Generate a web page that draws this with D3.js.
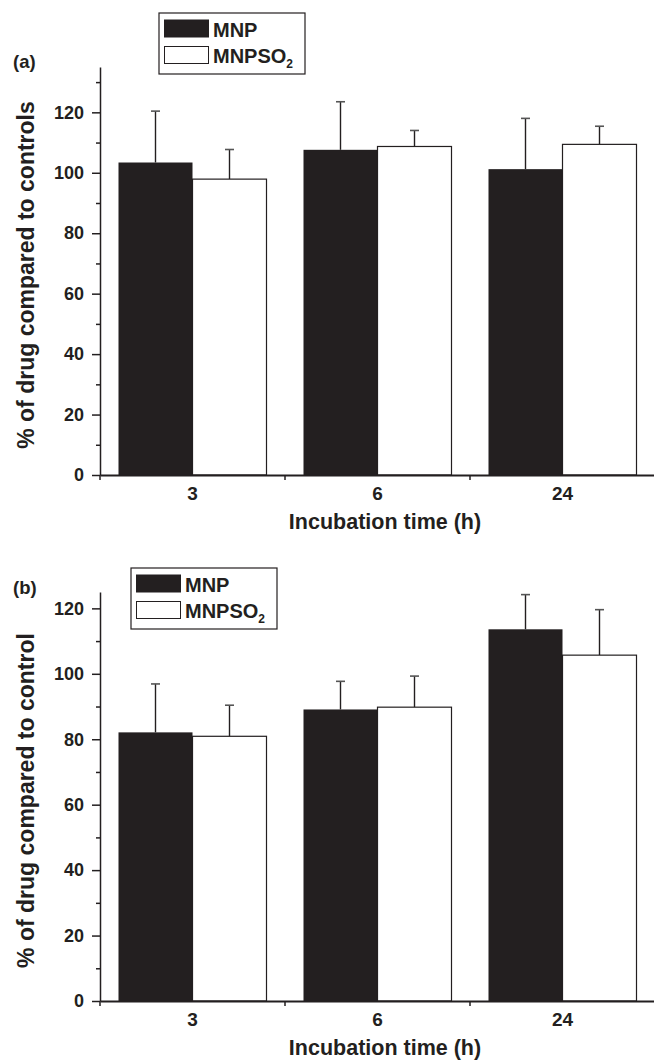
<!DOCTYPE html>
<html>
<head>
<meta charset="utf-8">
<script src="https://cdn.jsdelivr.net/npm/d3@7"></script>
<style>
	body { margin: 0; background: #fff; }
	text { font-family: "Liberation Sans", Arial, sans-serif; font-weight: bold; fill: #231f20; }
</style>
</head>
<body>
<div id="chart"></div>
<script>
// values (mean and SD, % of controls)
var categories = ['3', '6', '24'];
var seriesNames = ['MNP', 'MNPSO2'];

var mnpA = [103.4, 107.6, 101.2];
var mnpSdA = [17.0, 15.9, 16.8];
var so2A = [97.9, 108.7, 109.4];
var so2SdA = [9.8, 5.3, 6.0];

var mnpB = [82.1, 89.1, 113.6];
var mnpSdB = [14.8, 8.6, 10.6];
var so2B = [80.9, 89.8, 105.7];
var so2SdB = [9.5, 9.5, 13.9];

var yTicks = [0, 20, 40, 60, 80, 100, 120];
var yMinorA = [10, 30, 50, 70, 90, 110, 130];
var yMinorB = [10, 30, 50, 70, 90, 110];

var barChart = (function() {

	var ink = '#231f20';

	var init = function() {
		var svg = d3.select('#chart')
					.append('svg')
					.attr('width', 654)
					.attr('height', 1061);

		drawPanel(svg, {
			mnp: mnpA, mnpSd: mnpSdA, so2: so2A, so2Sd: so2SdA,
			yMax: 135, top: 67, bottom: 475, minor: yMinorA,
			tag: '(a)', tagY: 68,
			ytitle: '% of drug compared to controls',
			legendX: 159, legendY: 13
		});

		drawPanel(svg, {
			mnp: mnpB, mnpSd: mnpSdB, so2: so2B, so2Sd: so2SdB,
			yMax: 125, top: 592, bottom: 1001, minor: yMinorB,
			tag: '(b)', tagY: 594,
			ytitle: '% of drug compared to control',
			legendX: 131, legendY: 568
		});
	}

	var drawPanel = function(svg, p) {

		var x = d3.scaleBand().domain(categories).range([100, 655]);
		var xs = d3.scaleBand().domain(seriesNames).range([0, x.bandwidth()]).paddingOuter(0.25);
		var y = d3.scaleLinear().domain([0, p.yMax]).range([p.bottom, p.top]);

		var rows = [];
		categories.forEach(function(c, i) {
			rows.push({ cat: c, s: 'MNP', v: p.mnp[i], sd: p.mnpSd[i] });
			rows.push({ cat: c, s: 'MNPSO2', v: p.so2[i], sd: p.so2Sd[i] });
		});

		var g = svg.append('g');
		var cx = function(d) { return x(d.cat) + xs(d.s) + xs.bandwidth() / 2; };

		// error bars (only upper half shows)
		g.selectAll('line.err')
			.data(rows)
			.enter()
				.append('line')
				.attr('x1', cx).attr('x2', cx)
				.attr('y1', function(d) { return y(d.v); })
				.attr('y2', function(d) { return y(d.v + d.sd); })
				.attr('stroke', ink)
				.attr('stroke-width', 1.4);

		g.selectAll('line.cap')
			.data(rows)
			.enter()
				.append('line')
				.attr('x1', function(d) { return cx(d) - 4.5; })
				.attr('x2', function(d) { return cx(d) + 4.5; })
				.attr('y1', function(d) { return y(d.v + d.sd); })
				.attr('y2', function(d) { return y(d.v + d.sd); })
				.attr('stroke', '#555')
				.attr('stroke-width', 1.6);

		g.selectAll('rect.bar')
			.data(rows)
			.enter()
				.append('rect')
				.attr('x', function(d) { return x(d.cat) + xs(d.s); })
				.attr('width', xs.bandwidth())
				.attr('y', function(d) { return y(d.v); })
				.attr('height', function(d) { return y(0) - y(d.v); })
				.attr('fill', function(d) { return d.s == 'MNP' ? ink : '#fff'; })
				.attr('stroke', ink)
				.attr('stroke-width', function(d) { return d.s == 'MNP' ? 0 : 1.2; });

		// y axis
		var yAxis = g.append('g')
			.attr('transform', 'translate(100,0)')
			.call(d3.axisLeft(y).tickValues(yTicks).tickSize(8).tickSizeOuter(0).tickPadding(8));
		g.append('g')
			.attr('transform', 'translate(100,0)')
			.call(d3.axisLeft(y).tickValues(p.minor).tickSize(4).tickSizeOuter(0).tickFormat(''))
			.select('.domain').remove();

		yAxis.selectAll('text').attr('font-size', 18).attr('font-family', null);
		g.selectAll('.domain, .tick line').attr('stroke', ink).attr('stroke-width', 1.5);

		// x axis: line, ticks on the category edges, labels in the middle
		var xAxis = g.append('g')
			.attr('transform', 'translate(0,' + p.bottom + ')')
			.call(d3.axisBottom(x).tickSize(0).tickSizeOuter(0).tickPadding(12));
		xAxis.select('.domain').attr('stroke', ink).attr('stroke-width', 1.8);
		xAxis.selectAll('text').attr('font-size', 19).attr('font-family', null).attr('dy', '0.71em');

		var edges = categories.map(function(c) { return x(c); }).concat([x.range()[1]]);
		xAxis.selectAll('line.edge')
			.data(edges)
			.enter()
				.append('line')
				.attr('x1', function(d) { return d; })
				.attr('x2', function(d) { return d; })
				.attr('y1', 0).attr('y2', 5)
				.attr('stroke', ink)
				.attr('stroke-width', 1.5);

		g.append('text')
			.attr('x', 385)
			.attr('y', p.bottom + 54)
			.attr('text-anchor', 'middle')
			.attr('font-size', 21.5)
			.text('Incubation time (h)');

		g.append('text')
			.attr('transform', 'translate(34,' + ((p.top + p.bottom) / 2 + 4) + ') rotate(-90)')
			.attr('text-anchor', 'middle')
			.attr('font-size', 23)
			.text(p.ytitle);

		g.append('text')
			.attr('x', 13)
			.attr('y', p.tagY)
			.attr('font-size', 18.5)
			.text(p.tag);

		drawLegend(g, p.legendX, p.legendY);
	}

	var drawLegend = function(g, lx, ly) {

		var leg = g.append('g').attr('transform', 'translate(' + lx + ',' + ly + ')');

		leg.append('rect')
			.attr('width', 146).attr('height', 61)
			.attr('fill', '#fff')
			.attr('stroke', ink)
			.attr('stroke-width', 1.2);

		var items = leg.selectAll('g.item')
			.data(seriesNames)
			.enter()
				.append('g')
				.attr('transform', function(d, i) { return 'translate(0,' + (i * 26.5) + ')'; });

		items.append('rect')
			.attr('x', 5.5).attr('y', 7)
			.attr('width', 44).attr('height', 17)
			.attr('fill', function(d, i) { return i == 0 ? ink : '#fff'; })
			.attr('stroke', ink)
			.attr('stroke-width', 1);

		var label = items.append('text')
			.attr('x', 54)
			.attr('y', 23.5)
			.attr('font-size', 20);

		label.append('tspan').text(function(d) { return d == 'MNPSO2' ? 'MNPSO' : d; });
		label.filter(function(d) { return d == 'MNPSO2'; })
			.append('tspan')
			.attr('dy', 5)
			.attr('font-size', 12)
			.text('2');
	}

	return {
		'init': init
	}

})();

barChart.init();
</script>
</body>
</html>
